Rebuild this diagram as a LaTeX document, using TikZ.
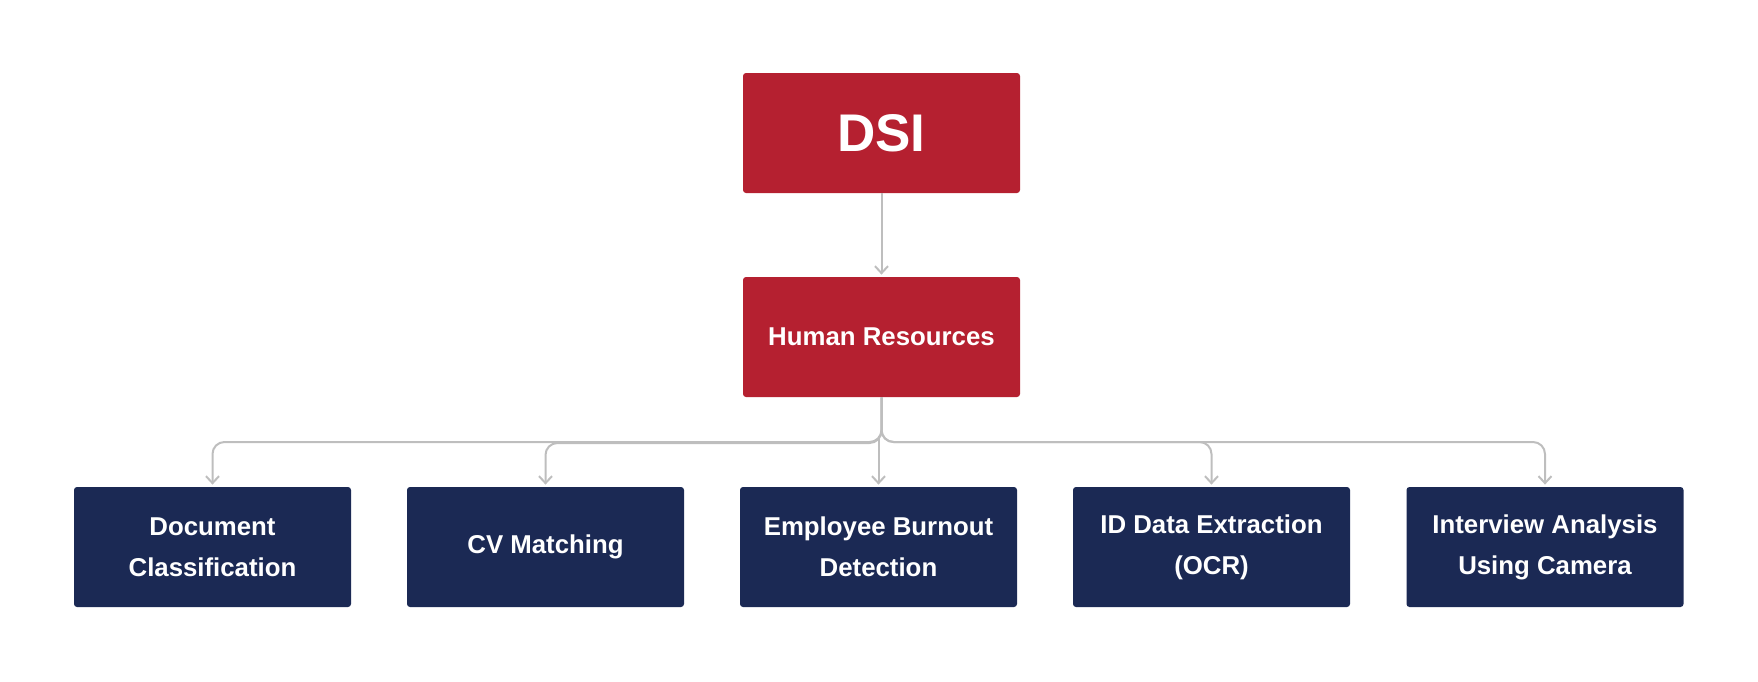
\documentclass[tikz,border=0pt]{standalone}
\usepackage{fontspec}
\setmainfont{Liberation Sans}
\usetikzlibrary{arrows.meta}
\definecolor{dsired}{RGB}{181,32,48}
\definecolor{dsinavy}{RGB}{27,41,84}
\definecolor{linkgray}{RGB}{190,190,190}
\begin{document}
\begin{tikzpicture}[x=0.5pt, y=-0.5pt,
    redbox/.style={fill=dsired, rounded corners=1.5pt, minimum width=138.5pt, minimum height=60pt, text=white, font=\bfseries, align=center, inner sep=0pt},
    bluebox/.style={fill=dsinavy, rounded corners=1.5pt, minimum width=138.5pt, minimum height=60pt, text=white, font=\fontsize{12.9}{20.5}\selectfont\bfseries, align=center, inner sep=0pt},
    link/.style={draw=linkgray, line width=1pt, rounded corners=6pt, -{Straight Barb[length=3.5pt,width=6.5pt]}, shorten >=1pt}]
    \useasboundingbox (0,0) rectangle (1758,681);

    \node[redbox, font=\fontsize{26.5}{30}\selectfont\bfseries] (dsi) at (881.5,133){DSI};
    \node[redbox, font=\fontsize{12.9}{21}\selectfont\bfseries] (hr) at (881.5,337){Human Resources};

    \node[bluebox] (doc) at (212.5,547){Document\\Classification};
    \node[bluebox] (cv) at (545.5,547){CV Matching};
    \node[bluebox] (burnout) at (878.5,547){Employee Burnout\\Detection};
    \node[bluebox] (ocr) at (1211.5,547){ID Data Extraction\\(OCR)};
    \node[bluebox] (cam) at (1545,547){Interview Analysis\\Using Camera};

    \draw[link] (dsi.south) -- (hr.north);

    \draw[link] (hr.south) |- (doc.north |- 0,442) -- (doc.north);
    \draw[link] (hr.south) |- (cv.north |- 0,443) -- (cv.north);
    \draw[link] (burnout.north |- 0,436) -- (burnout.north);
    \draw[link] (hr.south) |- (ocr.north |- 0,442) -- (ocr.north);
    \draw[link] (hr.south) |- (cam.north |- 0,442) -- (cam.north);
\end{tikzpicture}
\end{document}
